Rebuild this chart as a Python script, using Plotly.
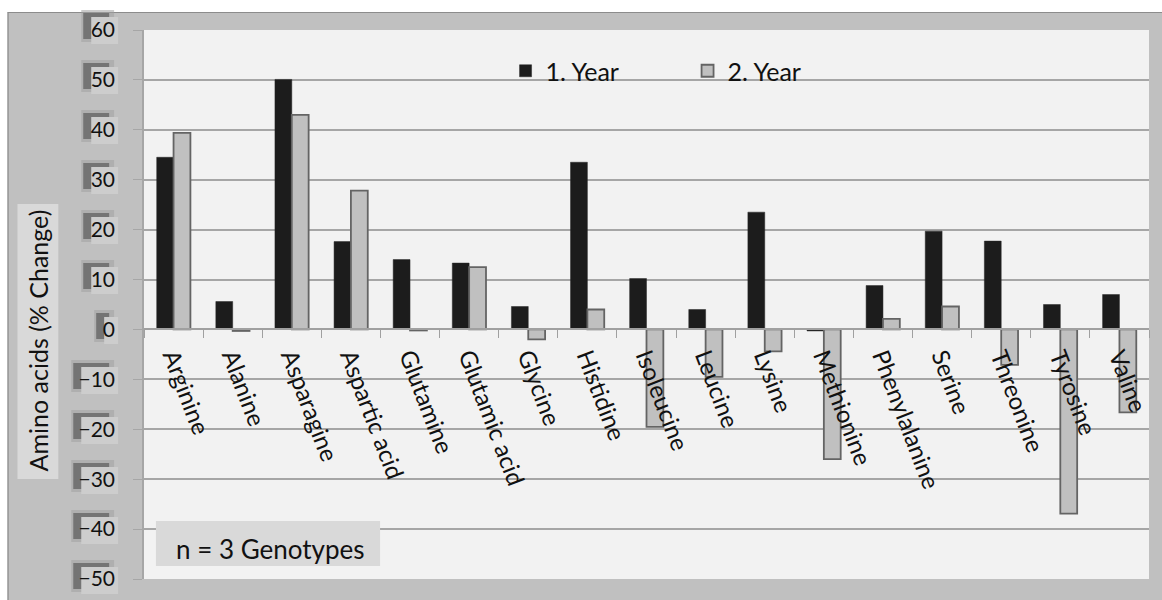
import plotly.graph_objects as go

categories = ["Arginine", "Alanine", "Asparagine", "Aspartic acid", "Glutamine",
              "Glutamic acid", "Glycine", "Histidine", "Isoleucine", "Leucine",
              "Lysine", "Methionine", "Phenylalanine", "Serine", "Threonine",
              "Tyrosine", "Valine"]
year1 = [34.5, 5.6, 50.1, 17.6, 14.0, 13.3, 4.6, 33.5, 10.2, 4.0,
         23.5, -0.3, 8.8, 19.7, 17.7, 5.0, 7.0]
year2 = [39.4, -0.3, 43.0, 27.8, -0.2, 12.5, -2.0, 4.0, -19.5, -9.5,
         -4.4, -26.0, 2.1, 4.6, -7.1, -36.9, -16.6]
y_ticks = [60, 50, 40, 30, 20, 10, 0, -10, -20, -30, -40, -50]
y_range = [-50, 60]

FONT = "Lato"
W_FIG, H_FIG = 1162, 600
L, R, T, B = 144, 1153, 30, 579
PW, PH = R - L, B - T


def px_x(px):
    return (px - L) / PW


def px_y(py):
    return (B - py) / PH


fig = go.Figure()
fig.add_bar(x=categories, y=year1, name="1. Year",
            marker=dict(color="#1c1c1c", line=dict(color="#262626", width=0.5)))
fig.add_bar(x=categories, y=year2, name="2. Year",
            marker=dict(color="#c0c0c0", line=dict(color="#646464", width=1.8)))

shapes = []
# white margin outside the grey chart panel
shapes.append(dict(type="rect", xref="paper", yref="paper", layer="below",
                   x0=px_x(-5), x1=px_x(W_FIG + 5), y0=px_y(12), y1=px_y(-5),
                   fillcolor="white", line=dict(width=0)))
shapes.append(dict(type="rect", xref="paper", yref="paper", layer="below",
                   x0=px_x(-5), x1=px_x(7), y0=px_y(H_FIG + 5), y1=px_y(-5),
                   fillcolor="white", line=dict(width=0)))
shapes.append(dict(type="line", xref="paper", yref="paper", layer="below",
                   x0=px_x(7), x1=px_x(W_FIG + 5), y0=px_y(12.5), y1=px_y(12.5),
                   line=dict(color="#8c8c8c", width=1.2)))
shapes.append(dict(type="line", xref="paper", yref="paper", layer="below",
                   x0=px_x(7.5), x1=px_x(7.5), y0=px_y(12.5), y1=px_y(H_FIG + 5),
                   line=dict(color="#8c8c8c", width=1.2)))
# y title background box
shapes.append(dict(type="rect", xref="paper", yref="paper", layer="below",
                   x0=px_x(17), x1=px_x(58), y0=px_y(479), y1=px_y(204),
                   fillcolor="#d9d9d9", line=dict(width=0)))
# tick label shadow + background boxes
for v in y_ticks:
    s = str(v)
    digits = len(s.replace("-", ""))
    w = 13 * digits + (10 if v < 0 else 0) + 1
    cy = 330 - v * 5
    right = 118
    left = right - w
    shapes.append(dict(type="rect", xref="paper", yref="paper", layer="below",
                       x0=px_x(left - 10), x1=px_x(right - 4),
                       y0=px_y(cy + 12), y1=px_y(cy - 20),
                       fillcolor="#a0a0a0", opacity=0.55, line=dict(width=0)))
    shapes.append(dict(type="rect", xref="paper", yref="paper", layer="below",
                       x0=px_x(left - 8), x1=px_x(right - 9),
                       y0=px_y(cy + 9), y1=px_y(cy - 17),
                       fillcolor="#555555", opacity=0.65, line=dict(width=0)))
    shapes.append(dict(type="rect", xref="paper", yref="paper", layer="below",
                       x0=px_x(left), x1=px_x(right),
                       y0=px_y(cy + 14), y1=px_y(cy - 13),
                       fillcolor="#cdcdcd", line=dict(width=0)))
# "n = 3 Genotypes" box
shapes.append(dict(type="rect", xref="paper", yref="paper", layer="above",
                   x0=px_x(156), x1=px_x(381), y0=px_y(566), y1=px_y(521),
                   fillcolor="#d9d9d9", line=dict(width=0)))

annotations = [
    dict(text="n = 3 Genotypes", xref="paper", yref="paper",
         x=px_x(271), y=px_y(549), xanchor="center", yanchor="middle",
         showarrow=False, font=dict(family=FONT, size=26, color="#111111")),
    dict(text="Amino acids (% Change)", xref="paper", yref="paper",
         x=px_x(38), y=px_y(340), xanchor="center", yanchor="middle",
         textangle=-90, showarrow=False,
         font=dict(family=FONT, size=25, color="#111111")),
]

fig.update_layout(
    width=W_FIG, height=H_FIG,
    margin=dict(l=L, r=W_FIG - R, t=T, b=H_FIG - B),
    paper_bgcolor="#c0c0c0",
    plot_bgcolor="#f2f2f2",
    barmode="group", bargap=0.43, bargroupgap=0.0,
    font=dict(family=FONT, size=20, color="#111111"),
    shapes=shapes, annotations=annotations,
    legend=dict(orientation="h", x=px_x(507), y=px_y(71), xanchor="left",
                yanchor="middle", bgcolor="rgba(0,0,0,0)",
                font=dict(family=FONT, size=25, color="#111111"),
                entrywidth=137, entrywidthmode="pixels", traceorder="normal"),
    xaxis=dict(type="category", anchor="free", position=50 / 110,
               showline=True, linecolor="#a0a0a0", linewidth=1.5,
               ticks="outside", tickson="boundaries", ticklen=8,
               tickcolor="#a0a0a0", tickwidth=1.2, tickangle=69,
               ticklabelstandoff=3,
               showgrid=False, tickfont=dict(family=FONT, size=24, color="#111111")),
    yaxis=dict(range=y_range, tickvals=y_ticks, showline=True,
               linecolor="#a6a6a6", linewidth=1.5, ticks="outside", ticklen=9,
               tickcolor="#a6a6a6", gridcolor="#a6a6a6", gridwidth=1.5,
               zeroline=False, ticklabelstandoff=14,
               tickfont=dict(family=FONT, size=21, color="#111111")),
)

fig.write_html("out.html")
